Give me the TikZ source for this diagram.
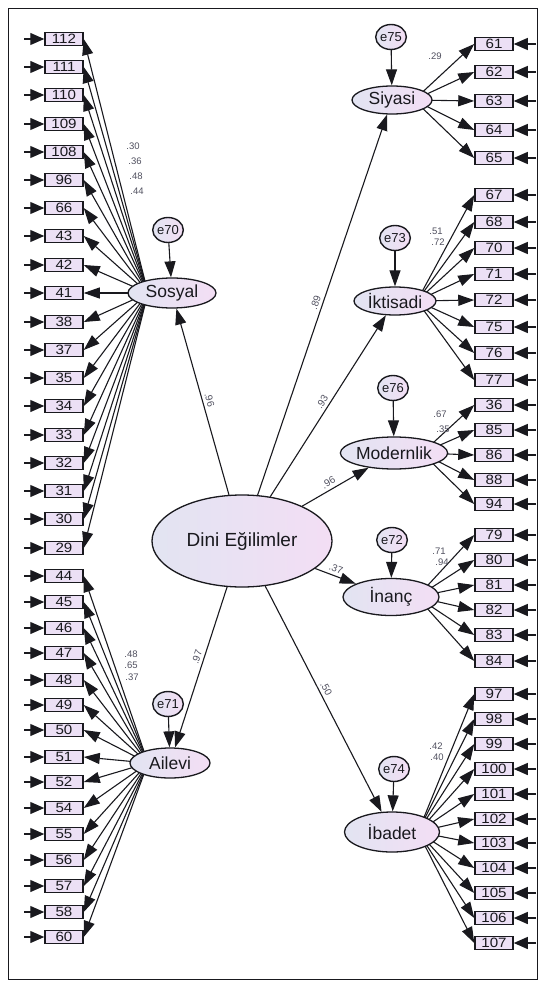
\documentclass[tikz,border=0pt]{standalone}
\usepackage{fontspec}
\setmainfont{Liberation Sans}
\usepackage{graphicx}
\usetikzlibrary{arrows.meta,shapes.geometric}
\pgfdeclarelayer{bg}
\pgfsetlayers{bg,main}
\definecolor{boxfill}{RGB}{236,224,245}
\definecolor{elA}{RGB}{226,228,242}
\definecolor{elB}{RGB}{243,222,244}
\definecolor{ink}{RGB}{25,25,30}
\definecolor{lbl}{RGB}{80,80,95}
\newcommand{\sx}[1]{\scalebox{1.12}[1]{#1}}
\begin{document}
\begin{tikzpicture}[x=1pt,y=-1pt,
 bx/.style={draw=ink, line width=1.5pt, fill=boxfill, minimum width=38pt, minimum height=13pt, inner sep=0pt, font=\fontsize{13.5}{13.5}\selectfont, text=ink},
 lat/.style={ellipse, draw=ink, line width=1.3pt, left color=elA, right color=elB, inner sep=0pt, font=\fontsize{17.5}{17.5}\selectfont, text=ink},
 errc/.style={ellipse, draw=ink, line width=1.4pt, left color=elA, right color=elB, minimum width=27pt, minimum height=25pt, inner sep=0pt, font=\fontsize{13}{13}\selectfont, text=ink},
 arr/.style={draw=ink, line width=1.1pt, -{Triangle[length=16pt,width=11pt]}},
 earr/.style={draw=ink, line width=1.2pt, -{Triangle[length=14pt,width=12pt]}},
 ld/.style={font=\fontsize{9.5}{9.5}\selectfont, text=lbl, inner sep=0pt},
 pl/.style={font=\fontsize{10}{10}\selectfont, text=lbl, sloped, above, inner sep=3pt},
]
\useasboundingbox (0,0) rectangle (542,987);
\draw[ink, line width=0.8pt] (8,8) rectangle (537,979);

% ---------- left boxes ----------
\foreach \n/\y in {112/39,111/67,110/95,109/124,108/152,96/180,66/208,43/236,42/265,41/293,38/322,37/350,35/378,34/406,33/435,32/463,31/491,30/519,29/548,
 44/576,45/602,46/628,47/653,48/680,49/705,50/730,51/757,52/782,54/808,55/834,56/860,57/886,58/912,60/937}{
  \node[bx] (bl\n) at (64,\y) {\sx{\n}};
  \coordinate (tl\n) at (24,\y);
  \draw[earr] (tl\n) -- (bl\n);
}
% ---------- right boxes ----------
\foreach \n/\y in {61/44,62/72,63/101,64/130,65/158,
 67/195,68/222,70/248,71/274,72/300,75/327,76/353,77/380,
 36/405,85/430,86/455,88/480,94/504,
 79/535,80/560,81/585,82/610,83/635,84/661,
 97/694,98/719,99/744,100/769,101/794,102/819,103/843,104/868,105/893,106/918,107/943}{
  \node[bx] (br\n) at (494,\y) {\sx{\n}};
  \coordinate (tr\n) at (536,\y);
  \draw[earr] (tr\n) -- (br\n);
}

% ---------- latent variables ----------
\node[lat, minimum width=180pt, minimum height=92pt, font=\fontsize{19}{19}\selectfont] (dini) at (242,541) {Dini Eğilimler};
\node[lat, minimum width=88pt, minimum height=30pt] (sosyal) at (172,293) {Sosyal};
\node[lat, minimum width=80pt, minimum height=30pt] (ailevi) at (170,763) {Ailevi};
\node[lat, minimum width=80pt, minimum height=28pt] (siyasi) at (392,100) {Siyasi};
\node[lat, minimum width=82pt, minimum height=28pt] (iktisadi) at (395,301) {İktisadi};
\node[lat, minimum width=102pt, minimum height=32pt] (modern) at (394,453) {Modernlik};
\node[lat, minimum width=96pt, minimum height=37pt] (inanc) at (391,597) {İnanç};
\node[lat, minimum width=95pt, minimum height=40pt] (ibadet) at (392,832) {İbadet};

% ---------- error circles ----------
\node[errc] (e70) at (168,230) {e70};
\node[errc] (e71) at (168,704) {e71};
\node[errc] (e75) at (391,37) {e75};
\node[errc] (e73) at (395,238) {e73};
\node[errc] (e76) at (393,388) {e76};
\node[errc] (e72) at (392,540) {e72};
\node[errc] (e74) at (394,769) {e74};
\foreach \e/\f in {e70/sosyal,e71/ailevi,e75/siyasi,e73/iktisadi,e76/modern,e72/inanc,e74/ibadet}
  \draw[arr] (\e) -- (\f);

% ---------- hubs inside the latent ellipses ----------
\coordinate (hsos) at (148,293);
\coordinate (hail) at (148,763);
\coordinate (hsiy) at (414,100);
\coordinate (hikt) at (417,301);
\coordinate (hmod) at (422,453);
\coordinate (hina) at (417,597);
\coordinate (hiba) at (418,832);

\begin{pgfonlayer}{bg}
\foreach \n in {112,111,110,109,108,96,66,43,42,41,38,37,35,34,33,32,31,30,29}
  \draw[arr] (hsos) -- (bl\n.east);
\foreach \n in {44,45,46,47,48,49,50,51,52,54,55,56,57,58,60}
  \draw[arr] (hail) -- (bl\n.east);
\foreach \n in {61,62,63,64,65}
  \draw[arr] (hsiy) -- (br\n.west);
\foreach \n in {67,68,70,71,72,75,76,77}
  \draw[arr] (hikt) -- (br\n.west);
\foreach \n in {36,85,86,88,94}
  \draw[arr] (hmod) -- (br\n.west);
\foreach \n in {79,80,81,82,83,84}
  \draw[arr] (hina) -- (br\n.west);
\foreach \n in {97,98,99,100,101,102,103,104,105,106,107}
  \draw[arr] (hiba) -- (br\n.west);
\end{pgfonlayer}

% ---------- structural paths ----------
\draw[arr] (dini) -- node[pl, pos=0.5] (p1) {.96} (sosyal);
\draw[arr] (dini) -- node[pl, pos=0.45] (p2) {.97} (ailevi);
\draw[arr] (dini) -- node[pl, pos=0.5] (p3) {.89} (siyasi);
\draw[arr] (dini) -- node[pl, pos=0.5] (p4) {.93} (iktisadi);
\draw[arr] (dini) -- node[pl, pos=0.45] (p5) {.96} (modern);
\draw[arr] (dini) -- node[pl, pos=0.45] (p6) {.37} (inanc);
\draw[arr] (dini) -- node[pl, pos=0.47] (p7) {.50} (ibadet);

% ---------- loading labels (legible ones) ----------
\node[ld] (s1) at (133,146) {.30};
\node[ld] (s2) at (135,161) {.36};
\node[ld] (s3) at (136,176) {.48};
\node[ld] (s4) at (137,191) {.44};
\node[ld] (a1) at (131,654) {.48};
\node[ld] (a2) at (131,665) {.65};
\node[ld] (a3) at (132,677) {.37};
\node[ld] (y1) at (435,56) {.29};
\node[ld] (k1) at (436,231) {.51};
\node[ld] (k2) at (438,242) {.72};
\node[ld] (m1) at (440,414) {.67};
\node[ld] (m2) at (443,429) {.35};
\node[ld] (n1) at (439,551) {.71};
\node[ld] (n2) at (442,562) {.94};
\node[ld] (i1) at (436,746) {.42};
\node[ld] (i2) at (437,757) {.40};
\end{tikzpicture}
\end{document}
